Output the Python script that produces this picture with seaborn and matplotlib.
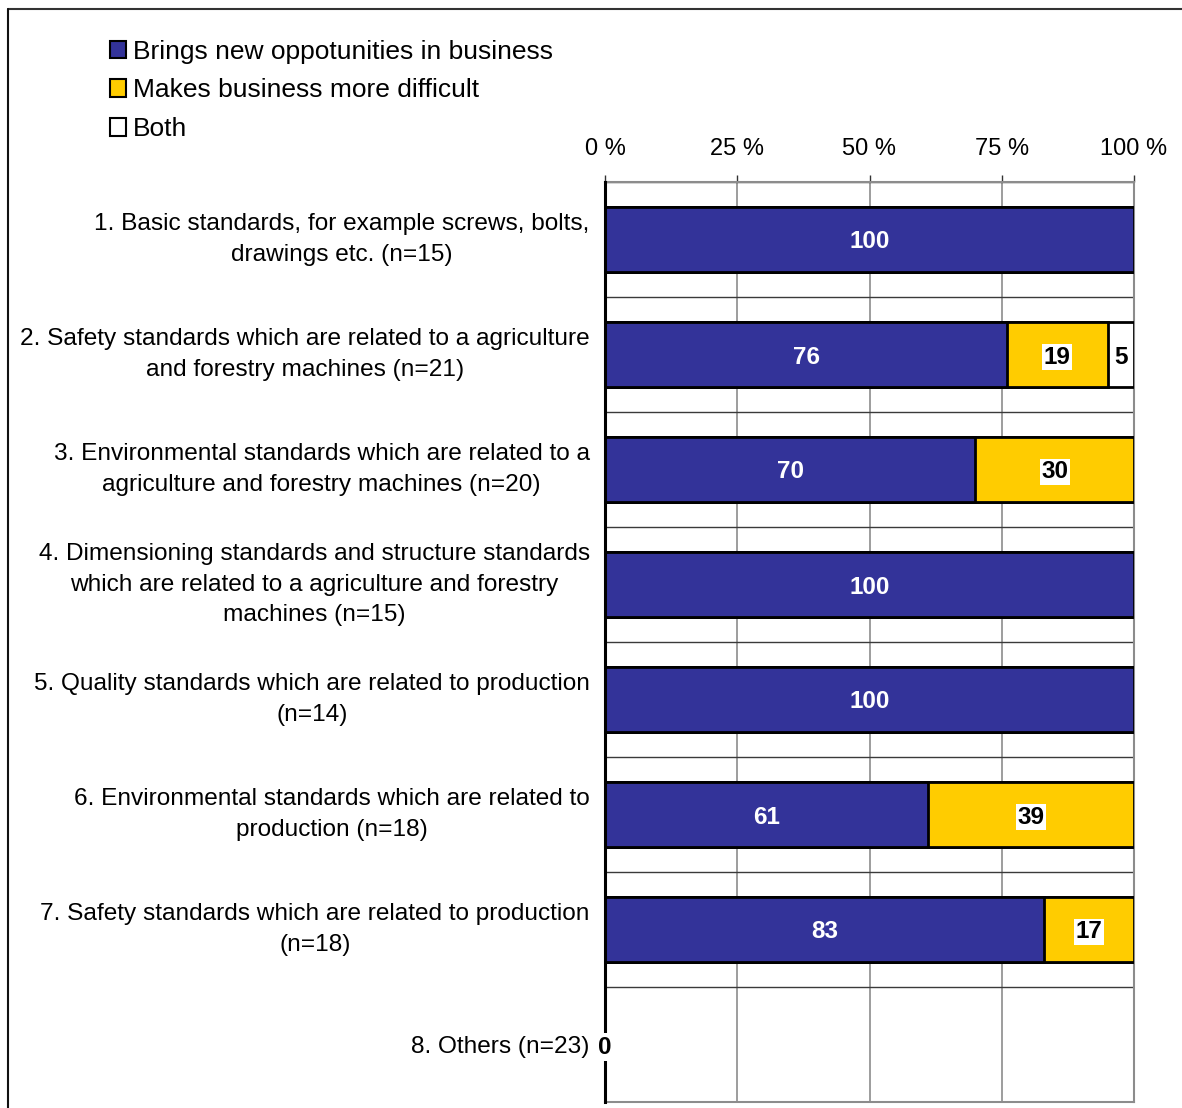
import numpy as np
import pandas as pd
import matplotlib
matplotlib.use("Agg")
import matplotlib.pyplot as plt
from matplotlib.patches import Patch
from matplotlib.lines import Line2D
import seaborn as sns

categories = [
    "1. Basic standards, for example screws, bolts,\ndrawings etc. (n=15)",
    "2. Safety standards which are related to a agriculture\nand forestry machines (n=21)",
    "3. Environmental standards which are related to a\nagriculture and forestry machines (n=20)",
    "4. Dimensioning standards and structure standards\nwhich are related to a agriculture and forestry\nmachines (n=15)",
    "5. Quality standards which are related to production\n(n=14)",
    "6. Environmental standards which are related to\nproduction (n=18)",
    "7. Safety standards which are related to production\n(n=18)",
    "8. Others (n=23)",
]
new_opportunities = [100, 76, 70, 100, 100, 61, 83, 0]
more_difficult = [0, 19, 30, 0, 0, 39, 17, 0]
both = [0, 5, 0, 0, 0, 0, 0, 0]

series_names = ["Brings new oppotunities in business", "Makes business more difficult", "Both"]
series_colors = ["#333399", "#FFCC00", "#FFFFFF"]
tick_values = [0, 25, 50, 75, 100]
tick_labels = ["0 %", "25 %", "50 %", "75 %", "100 %"]

sns.set_style("white")
plt.rcParams["font.family"] = ["Liberation Sans", "DejaVu Sans"]
plt.rcParams["text.color"] = "black"
plt.rcParams["xtick.color"] = "black"
plt.rcParams["ytick.color"] = "black"
plt.rcParams["axes.labelcolor"] = "black"

df = pd.DataFrame({
    "category": categories,
    "s1": new_opportunities,
    "s2": more_difficult,
    "s3": both,
})
df["c1"] = df["s1"]
df["c2"] = df["s1"] + df["s2"]
df["c3"] = df["s1"] + df["s2"] + df["s3"]

fig = plt.figure(figsize=(11.82, 11.08), dpi=100)
ax = fig.add_axes([605 / 1182, 1 - 1102 / 1108, (1134 - 605) / 1182, (1102 - 182) / 1108])

# stacked bars: draw cumulative totals back to front
for col, color in zip(["c3", "c2", "c1"], series_colors[::-1]):
    sns.barplot(data=df, x=col, y="category", orient="h", color=color,
                edgecolor="black", linewidth=2.0, width=0.56, saturation=1,
                ax=ax, zorder=3)

ax.set_xlim(0, 100)
ax.set_ylim(len(categories) - 0.5, -0.5)
ax.set_xlabel("")
ax.set_ylabel("")

# top value axis
ax.xaxis.tick_top()
ax.set_xticks(tick_values)
ax.set_xticklabels(tick_labels, fontsize=17)
ax.tick_params(axis="x", which="major", direction="out", length=5, width=1,
               color="#333333", labelcolor="black", pad=11, top=True, bottom=False)

# category axis
ax.set_yticks(range(len(categories)))
ax.set_yticklabels(categories, fontsize=17.6)
for t in ax.get_yticklabels():
    t.set_multialignment("center")
    t.set_linespacing(1.52)
    t.set_color("black")
    if "\n" in t.get_text():
        t.set_verticalalignment("center")
ax.tick_params(axis="y", which="major", length=0, pad=11)
ax.set_yticks(np.arange(-0.5, len(categories) + 0.5, 1), minor=True)
ax.tick_params(axis="y", which="minor", direction="out", length=6, width=1, color="#333333")

# gridlines
for v in tick_values[1:]:
    ax.axvline(v, color="#8c8c8c", linewidth=1.2, zorder=1)
for b in np.arange(-0.5, len(categories) + 0.5, 1):
    ax.axhline(b, color="#3a3a3a", linewidth=1.0, zorder=1)

for side in ["top", "right", "bottom"]:
    ax.spines[side].set_color("#8c8c8c")
    ax.spines[side].set_linewidth(1.5)
ax.spines["left"].set_color("black")
ax.spines["left"].set_linewidth(2.2)
ax.spines["left"].set_zorder(4)

# value labels
label_kw = dict(ha="center", va="center_baseline", fontsize=17.5, fontweight="bold", zorder=6)
for i, row in df.iterrows():
    if row["s1"] > 0:
        ax.text(row["s1"] / 2, i, f"{row['s1']}", color="white", **label_kw)
    if row["s2"] > 0:
        ax.text(row["s1"] + row["s2"] / 2, i, f"{row['s2']}", color="black",
                bbox=dict(facecolor="white", edgecolor="none", pad=1.0), **label_kw)
    if row["s3"] > 0:
        ax.text(row["c2"] + row["s3"] / 2, i, f"{row['s3']}", color="black", **label_kw)
    if row["c3"] == 0:
        ax.text(0, i, f"{row['c3']}", color="black",
                bbox=dict(facecolor="white", edgecolor="none", pad=1.5), **label_kw)

# legend
handles = [Patch(facecolor=c, edgecolor="black", linewidth=1.5) for c in series_colors]
fig.legend(handles, series_names, loc="upper left",
           bbox_to_anchor=(99 / 1182, 1 - 29 / 1108), frameon=False,
           fontsize=19, handlelength=0.64, handleheight=0.64,
           handletextpad=0.23, labelspacing=0.56, borderaxespad=0)

# outer frame
fig.add_artist(Line2D([8 / 1182, 1.0], [1 - 9 / 1108, 1 - 9 / 1108],
                      transform=fig.transFigure, color="#333333", linewidth=1.5))
fig.add_artist(Line2D([8 / 1182, 8 / 1182], [0.0, 1 - 9 / 1108],
                      transform=fig.transFigure, color="#111111", linewidth=1.5))

fig.savefig("out.png", dpi=100, facecolor="white")
